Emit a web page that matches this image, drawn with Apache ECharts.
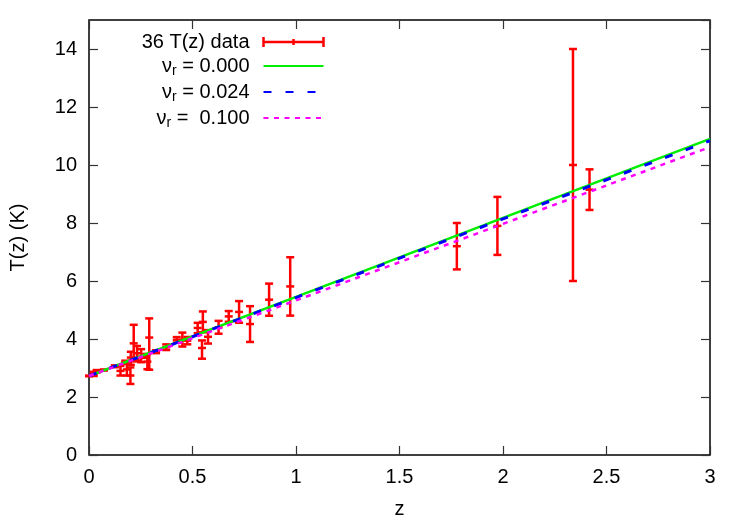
<!DOCTYPE html>
<html>
<head>
<meta charset="utf-8">
<title>T(z)</title>
<script src="https://cdn.jsdelivr.net/npm/echarts@6/dist/echarts.min.js"></script>
<style>
html, body { margin: 0; padding: 0; background: #fff; }
#chart { width: 747px; height: 522px; }
</style>
</head>
<body>
<div id="chart"></div>
<script>
// 36 T(z) points: T0, SZ clusters, quasar absorption lines
var zData   = [0, 0.023, 0.037, 0.072, 0.125, 0.152, 0.175, 0.183, 0.200, 0.202, 0.216, 0.222, 0.232, 0.252,
               0.274, 0.282, 0.291, 0.324, 0.373, 0.424, 0.451, 0.475, 0.525, 0.546, 0.550, 0.575, 0.626,
               0.675, 0.725, 0.778, 0.870, 0.972, 1.777, 1.973, 2.338, 2.418];
var tData   = [2.7255, 2.789, 2.888, 2.931, 3.059, 2.90, 3.197, 2.95, 2.74, 3.36, 3.85, 3.288, 3.51, 3.39,
               3.416, 3.22, 4.05, 3.562, 3.717, 3.971, 3.97, 3.943, 4.380, 3.69, 4.59, 4.075, 4.404,
               4.779, 4.933, 4.515, 5.356, 5.813, 7.2, 7.9, 10.0, 9.15];
var errUp   = [0.0006, 0.080, 0.041, 0.017, 0.032, 0.17, 0.055, 0.27, 0.28, 0.20, 0.64, 0.061, 0.25, 0.26,
               0.065, 0.26, 0.66, 0.050, 0.097, 0.095, 0.25, 0.127, 0.177, 0.26, 0.36, 0.232, 0.222,
               0.185, 0.374, 0.617, 0.554, 1.007, 0.8, 1.0, 4.0, 0.70];
var errDown = [0.0006, 0.065, 0.041, 0.017, 0.032, 0.16, 0.055, 0.21, 0.29, 0.25, 0.50, 0.061, 0.25, 0.19,
               0.065, 0.26, 1.11, 0.050, 0.097, 0.095, 0.23, 0.127, 0.177, 0.37, 0.36, 0.232, 0.222,
               0.185, 0.374, 0.617, 0.554, 1.007, 0.8, 1.0, 4.0, 0.70];

// model curves
var zModel = [0, 1, 2, 3];
var tNu000 = [2.725, 5.45, 8.175, 10.90];
var tNu024 = [2.725, 5.43, 8.14, 10.84];
var tNu100 = [2.725, 5.33, 7.97, 10.62];

var font = 'Liberation Sans, Arial, Helvetica, sans-serif';

var barData = zData.map(function (z, i) {
  return [z, tData[i], tData[i] + errUp[i], tData[i] - errDown[i]];
});
function pairs(ys) {
  return zModel.map(function (z, i) { return [z, ys[i]]; });
}

var legendText = {
  '36 T(z) data': '{a|36 T(z) data}',
  'nu0': '{a|ν}{b|r}{a| = 0.000}',
  'nu1': '{a|ν}{b|r}{a| = 0.024}',
  'nu2': '{a|ν}{b|r}{a| =  0.100}'
};

var myChart = echarts.init(document.getElementById('chart'), null, { renderer: 'canvas' });

// gnuplot style: ticks inside on all four sides
function tick() {
  return { show: true, inside: true, length: 9, lineStyle: { color: '#333', width: 1.2 } };
}
var noLine = { show: false, onZero: false };

myChart.setOption({
  animation: false,
  backgroundColor: '#fff',
  textStyle: { fontFamily: font },
  grid: {
    left: 89, right: 37, top: 20, bottom: 67,
    show: true, borderColor: '#000', borderWidth: 1.5,
    containLabel: false, outerBoundsMode: 'none'
  },
  legend: {
    orient: 'vertical',
    right: 421,
    top: 32,
    padding: 0,
    align: 'right',
    itemWidth: 60,
    itemHeight: 10,
    itemGap: 4,
    selectedMode: false,
    formatter: function (name) { return legendText[name]; },
    textStyle: {
      color: '#000',
      padding: [0, 9, 0, 0],
      rich: {
        a: { fontSize: 20, lineHeight: 24, fontFamily: font, color: '#000' },
        b: { fontSize: 14, lineHeight: 12, verticalAlign: 'bottom', fontFamily: font, color: '#000' }
      }
    },
    data: [
      { name: '36 T(z) data', icon: 'path://M0,0L0,10M0,5L60,5M30,2L30,8M60,0L60,10',
        itemStyle: { color: 'none', borderColor: '#ff0000', borderWidth: 2.5 } },
      { name: 'nu0', itemStyle: { opacity: 0 } },
      { name: 'nu1', itemStyle: { opacity: 0 } },
      { name: 'nu2', itemStyle: { opacity: 0 } }
    ]
  },
  xAxis: [
    {
      type: 'value', position: 'bottom', min: 0, max: 3, interval: 0.5,
      axisLine: noLine, splitLine: { show: false }, axisTick: tick(),
      name: 'z', nameLocation: 'middle', nameGap: 44,
      nameTextStyle: { fontSize: 20, color: '#000', fontFamily: font },
      axisLabel: { fontSize: 20, color: '#000', margin: 12, fontFamily: font }
    },
    {
      type: 'value', position: 'top', min: 0, max: 3, interval: 0.5,
      axisLine: noLine, splitLine: { show: false }, axisTick: tick(),
      axisLabel: { show: false }
    }
  ],
  yAxis: [
    {
      type: 'value', position: 'left', min: 0, max: 15, interval: 2,
      axisLine: noLine, splitLine: { show: false }, axisTick: tick(),
      name: 'T(z) (K)', nameLocation: 'middle', nameGap: 61,
      nameTextStyle: { fontSize: 20, color: '#000', fontFamily: font },
      axisLabel: { fontSize: 20, color: '#000', margin: 12, fontFamily: font, showMaxLabel: false }
    },
    {
      type: 'value', position: 'right', min: 0, max: 15, interval: 2,
      axisLine: noLine, splitLine: { show: false }, axisTick: tick(),
      axisLabel: { show: false }
    }
  ],
  series: [
    {
      name: '36 T(z) data',
      type: 'custom',
      xAxisIndex: 0, yAxisIndex: 0,
      z: 2,
      itemStyle: { color: '#ff0000' },
      data: barData,
      renderItem: function (params, api) {
        var c = api.coord([api.value(0), api.value(1)]);
        var hi = api.coord([api.value(0), api.value(2)]);
        var lo = api.coord([api.value(0), api.value(3)]);
        var w = 4;
        var st = { stroke: '#ff0000', lineWidth: 2.5 };
        return {
          type: 'group',
          children: [
            { type: 'line', shape: { x1: c[0], y1: hi[1], x2: c[0], y2: lo[1] }, style: st },
            { type: 'line', shape: { x1: c[0] - w, y1: hi[1], x2: c[0] + w, y2: hi[1] }, style: st },
            { type: 'line', shape: { x1: c[0] - w, y1: lo[1], x2: c[0] + w, y2: lo[1] }, style: st },
            { type: 'line', shape: { x1: c[0] - w, y1: c[1], x2: c[0] + w, y2: c[1] }, style: st }
          ]
        };
      }
    },
    {
      name: 'nu0', type: 'line', z: 3, symbol: 'none', silent: true,
      data: pairs(tNu000),
      itemStyle: { color: '#00ee00' },
      lineStyle: { color: '#00ee00', width: 2.5, type: 'solid' }
    },
    {
      name: 'nu1', type: 'line', z: 4, symbol: 'none', silent: true,
      data: pairs(tNu024),
      itemStyle: { color: '#0000ff' },
      lineStyle: { color: '#0000ff', width: 3, type: [8, 14] }
    },
    {
      name: 'nu2', type: 'line', z: 5, symbol: 'none', silent: true,
      data: pairs(tNu100),
      itemStyle: { color: '#ff00ff' },
      lineStyle: { color: '#ff00ff', width: 2.5, type: [5, 5.5] }
    }
  ]
});
</script>
</body>
</html>
